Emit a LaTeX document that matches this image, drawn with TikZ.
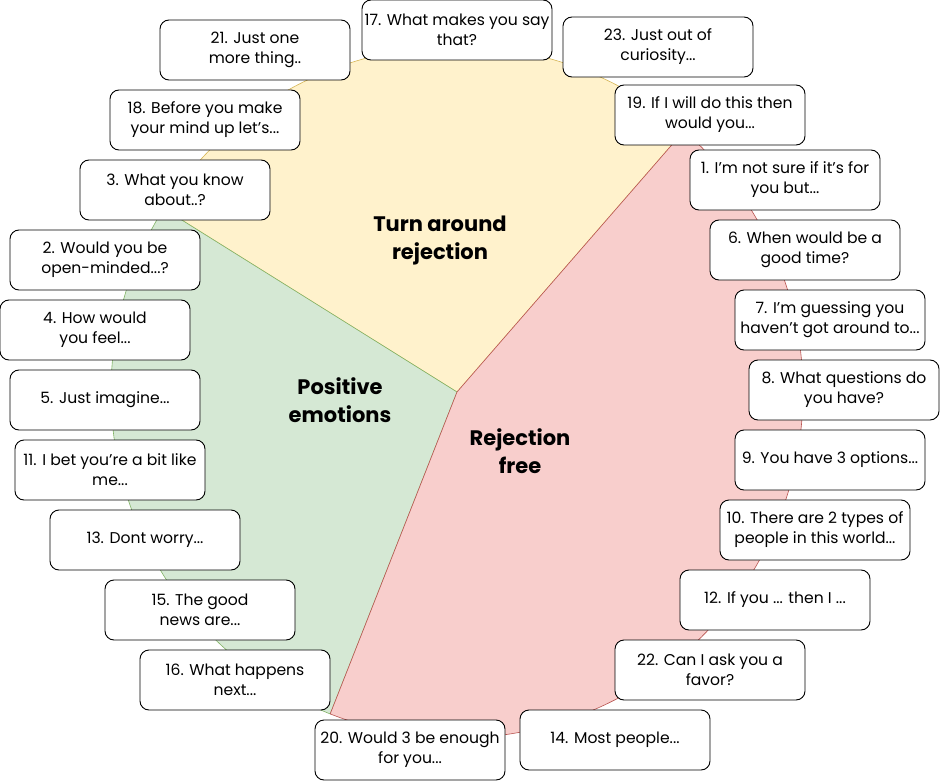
\documentclass[tikz,border=0pt]{standalone}
\usepackage{fontspec}
\setmainfont{Poppins}
\definecolor{turnfill}{HTML}{FFF2CC}
\definecolor{turnline}{HTML}{D6B656}
\definecolor{posfill}{HTML}{D5E8D4}
\definecolor{posline}{HTML}{82B366}
\definecolor{freefill}{HTML}{F8CECC}
\definecolor{freeline}{HTML}{B85450}
\begin{document}
\begin{tikzpicture}[x=1pt,y=1pt,
  prompt/.style={draw=black,fill=white,rounded corners=9pt,line width=0.9pt,
    minimum width=190pt,minimum height=60pt,inner sep=0pt,align=center,
    font=\fontsize{15.6}{20}\selectfont},
  heading/.style={align=center,font=\fontsize{21}{28}\selectfont\bfseries}]
\useasboundingbox (0,0) rectangle (940,-781);
\coordinate (hub) at (457,-392);

\filldraw[fill=turnfill,draw=turnline,line width=0.6pt] (hub) -- ++(49:346pt)  arc[start angle=49, end angle=148, radius=346pt] -- cycle;
\filldraw[fill=posfill, draw=posline, line width=0.6pt] (hub) -- ++(148:346pt) arc[start angle=148,end angle=248.5,radius=346pt] -- cycle;
\filldraw[fill=freefill,draw=freeline,line width=0.6pt] (hub) -- ++(248.5:346pt) arc[start angle=248.5,end angle=409,radius=346pt] -- cycle;

\node[heading] (turn) at (440,-241) {Turn around\\rejection};
\node[heading] (pos)  at (340,-400) {Positive\\emotions};
\node[heading] (free) at (520,-451) {Rejection\\free};

\node[prompt] (q17) at (457,-30)  {17. What makes you say\\that?};
\node[prompt] (q21) at (255,-50)  {21. Just one\\more thing..};
\node[prompt] (q23) at (658,-47)  {23. Just out of\\curiosity...};
\node[prompt] (q18) at (205,-120) {18. Before you make\\your mind up let's...};
\node[prompt] (q19) at (710,-115) {19. If I will do this then\\would you...};
\node[prompt] (q3)  at (175,-190) {3. What you know\\about..?};

\node[prompt] (q2)  at (105,-260) {2. Would you be\\open-minded...?};
\node[prompt] (q4)  at (95,-330)  {4. How would\\you feel...};
\node[prompt] (q5)  at (105,-400) {5. Just imagine...};
\node[prompt] (q11) at (110,-470) {11. I bet you’re a bit like\\me...};
\node[prompt] (q13) at (145,-540) {13. Dont worry...};
\node[prompt] (q15) at (200,-610) {15. The good\\news are...};
\node[prompt] (q16) at (235,-680) {16. What happens\\next...};

\node[prompt] (q1)  at (785,-180) {1. I’m not sure if it’s for\\you but...};
\node[prompt] (q6)  at (805,-250) {6. When would be a\\good time?};
\node[prompt] (q7)  at (830,-320) {7. I’m guessing you\\haven’t got around to...};
\node[prompt] (q8)  at (844,-390) {8. What questions do\\you have?};
\node[prompt] (q9)  at (830,-460) {9. You have 3 options...};
\node[prompt] (q10) at (815,-530) {10. There are 2 types of\\people in this world...};
\node[prompt] (q12) at (775,-600) {12. If you ... then I ...};
\node[prompt] (q22) at (710,-670) {22. Can I ask you a\\favor?};
\node[prompt] (q14) at (615,-740) {14. Most people...};
\node[prompt] (q20) at (410,-750) {20. Would 3 be enough\\for you...};
\end{tikzpicture}
\end{document}
